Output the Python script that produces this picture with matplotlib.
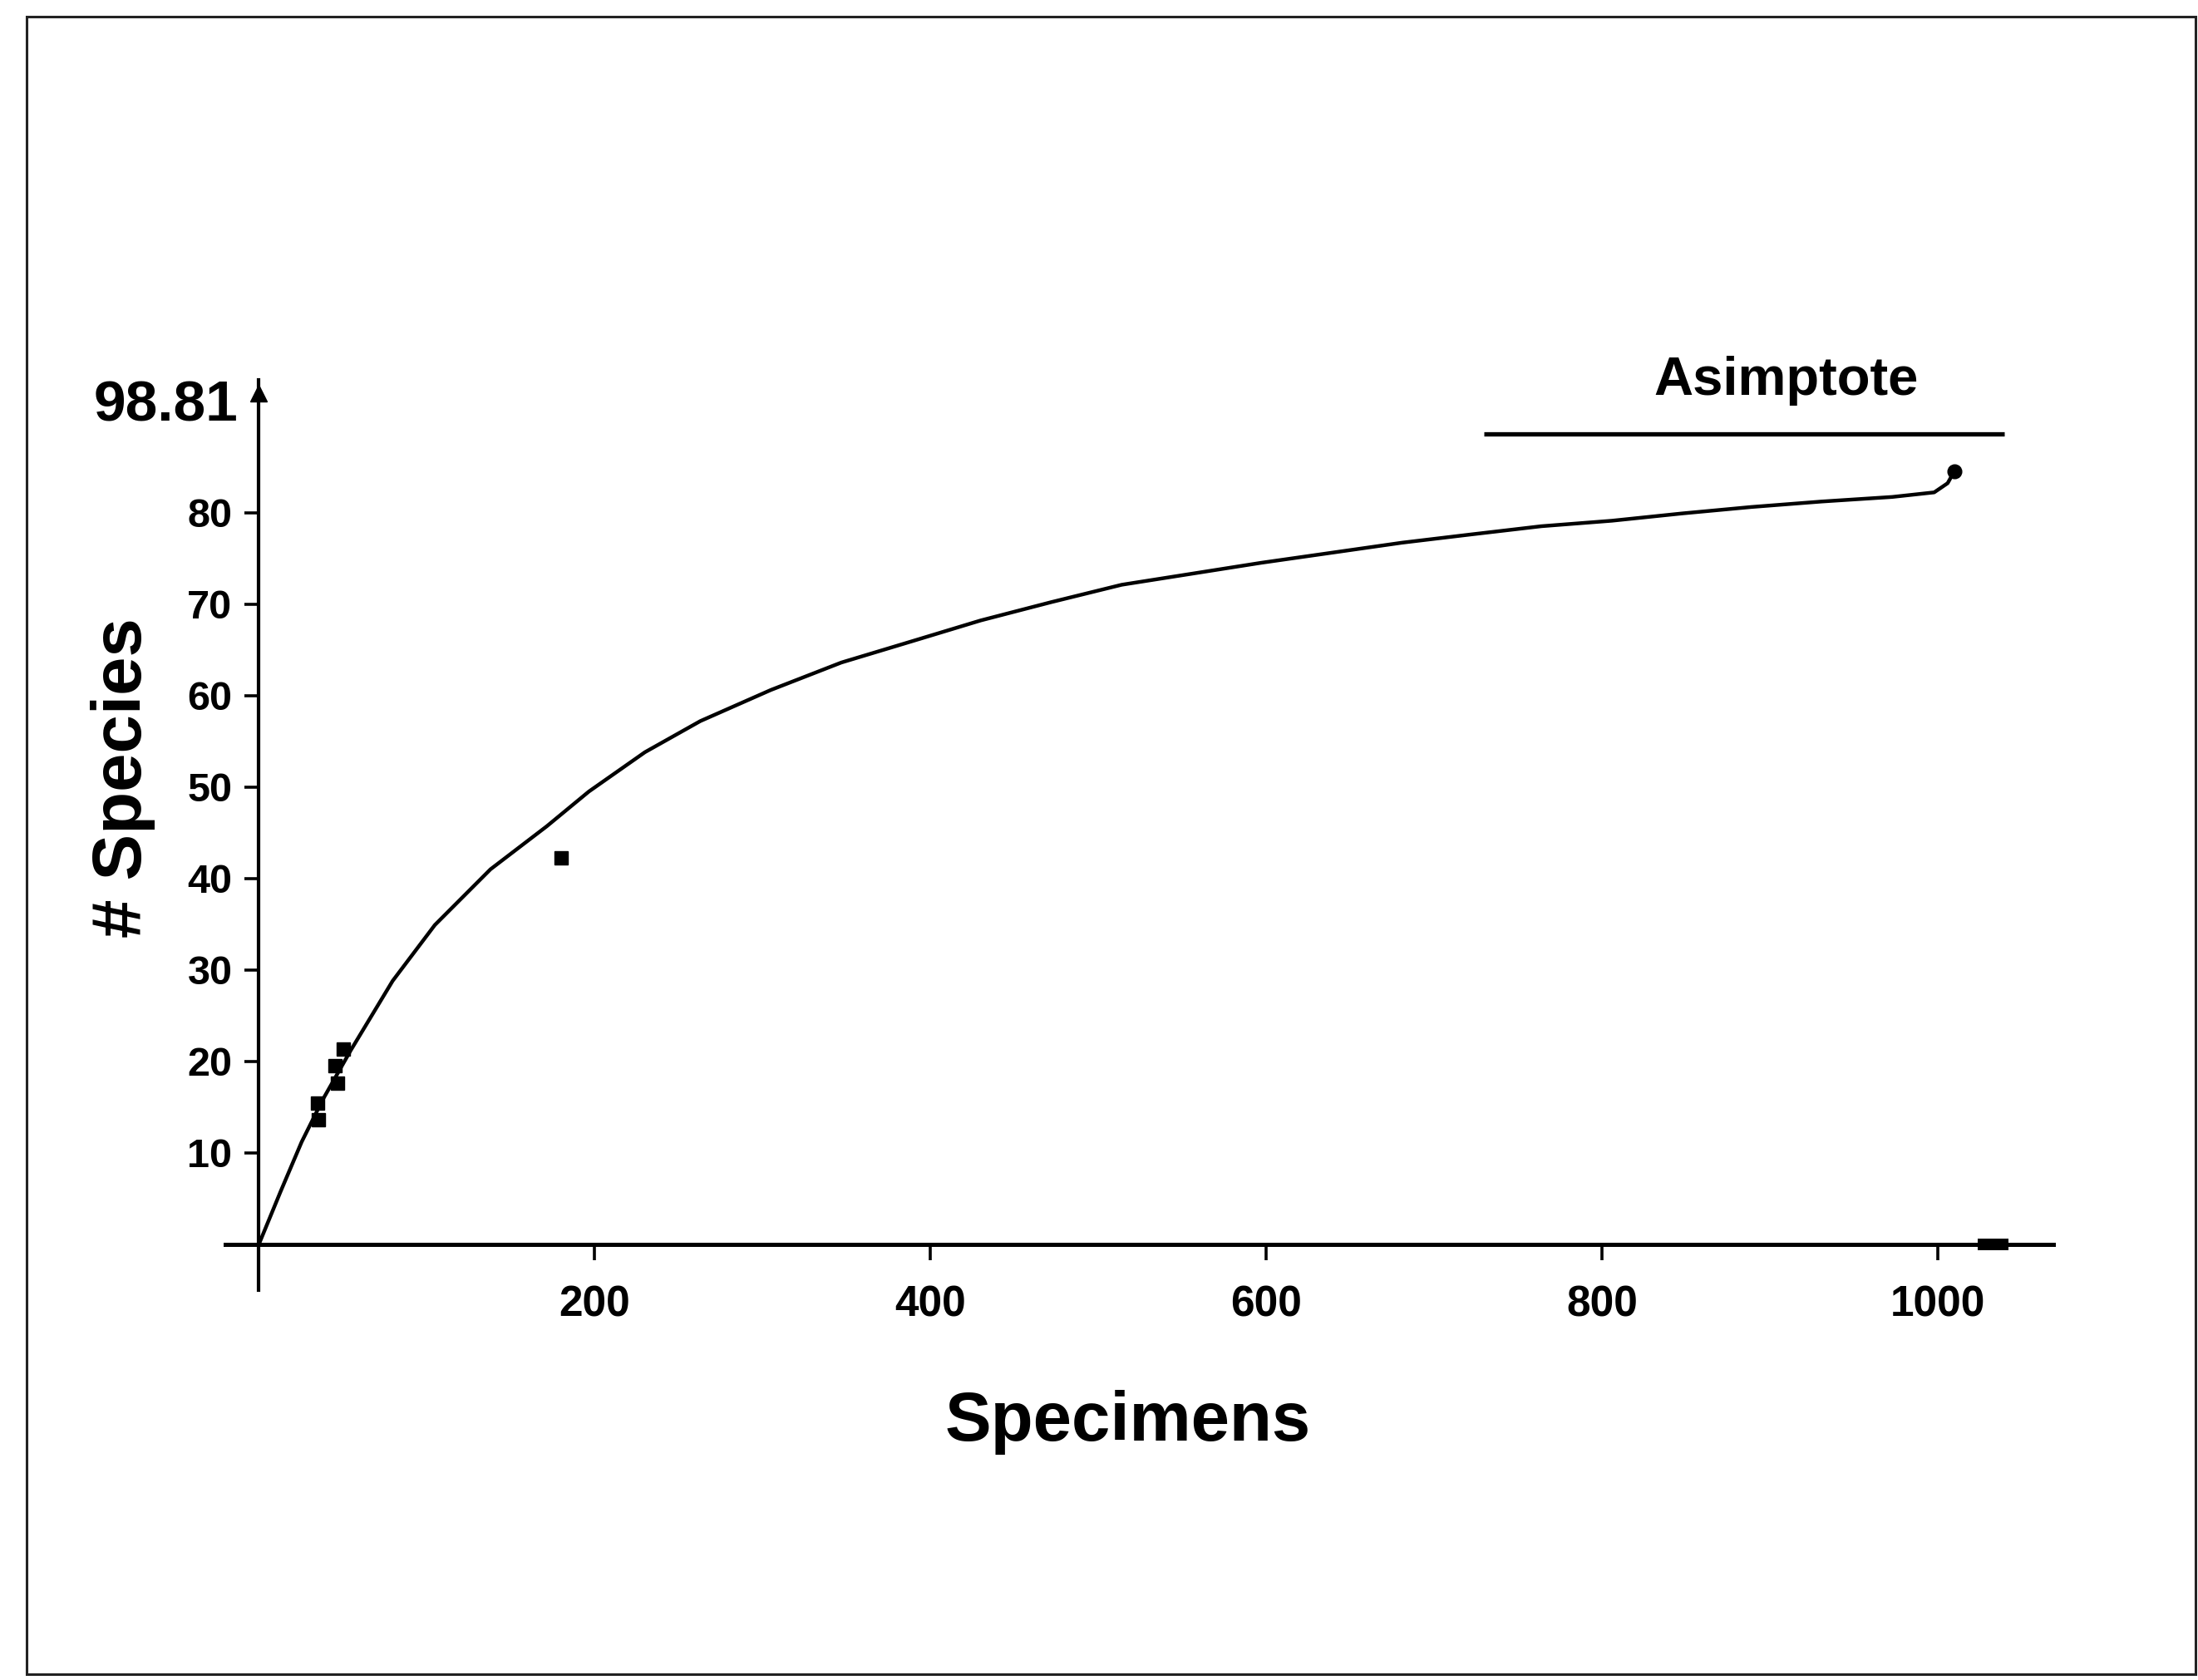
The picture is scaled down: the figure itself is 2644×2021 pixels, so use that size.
import matplotlib
matplotlib.use('Agg')
import matplotlib.pyplot as plt
from matplotlib.patches import Rectangle

# ── data ──
specimens = [0, 13, 25.5, 38, 54.7, 79.7, 104.8, 138, 171.5, 196.6, 230, 263, 305,
             347, 388.6, 430, 472, 514, 555.5, 597, 639, 681, 722, 764, 806, 848,
             889, 931, 973, 998, 1006, 1010]
species = [0, 5.8, 11.2, 15.8, 21.2, 28.8, 34.9, 41.0, 45.7, 49.5, 53.8, 57.2, 60.6,
           63.6, 65.9, 68.2, 70.2, 72.1, 73.3, 74.5, 75.6, 76.7, 77.6, 78.5, 79.1, 79.9,
           80.6, 81.2, 81.7, 82.2, 83.2, 84.5]

# stray marks on the scan
blob_x = [35.6, 35.1, 47, 45.5, 50.5, 180]
blob_y = [13.6, 15.4, 17.6, 19.5, 21.3, 42.2]

asym_x = [730, 1040]
asym_y = [88.6, 88.6]

x_ticks = [200, 400, 600, 800, 1000]
y_ticks = [10, 20, 30, 40, 50, 60, 70, 80]
top_label = '98.81'
top_label_y = 91.6

plt.rcParams['font.family'] = ['Liberation Sans', 'DejaVu Sans']
plt.rcParams['font.weight'] = 'bold'

fig = plt.figure(figsize=(26.44, 20.21), dpi=100)
ax = fig.add_axes([0.1025, 0.2321, 0.8317, 0.5418])

# scan frame
fig.patches.append(Rectangle((0.0121, 0.0035), 0.9868, 0.9866, transform=fig.transFigure,
                             fill=False, edgecolor='#222222', linewidth=2.2))

ax.plot(specimens, species, color='black', linewidth=3.2, solid_joinstyle='round')
ax.plot(blob_x, blob_y, linestyle='none', marker='s', markersize=11, color='black')
ax.plot(specimens[-1], species[-1], marker='o', markersize=12, color='black')
ax.plot(asym_x, asym_y, color='black', linewidth=3.8, solid_capstyle='butt')
ax.plot([1024, 1042], [0, 0], color='black', linewidth=10, solid_capstyle='butt', clip_on=False)

ax.set_xlim(-20, 1069)
ax.set_ylim(-5, 94.5)

for s in ['top', 'right']:
    ax.spines[s].set_visible(False)
ax.spines['left'].set_position(('data', 0))
ax.spines['bottom'].set_position(('data', 0))
ax.spines['left'].set_linewidth(3.0)
ax.spines['bottom'].set_linewidth(3.6)

ax.set_xticks(x_ticks)
ax.set_xticklabels([str(v) for v in x_ticks], fontsize=37, fontweight='bold')
ax.set_yticks(y_ticks)
ax.set_yticklabels([str(v) for v in y_ticks], fontsize=35, fontweight='bold')
ax.tick_params(axis='x', direction='out', length=14, width=2.6, pad=21)
ax.tick_params(axis='y', direction='out', length=12, width=2.6, pad=11)

ax.annotate(top_label, xy=(0, top_label_y), xytext=(-18, 0), textcoords='offset points',
            ha='right', va='center', fontsize=50, fontweight='bold', annotation_clip=False)
ax.plot(0, 93.0, marker='^', markersize=15, color='black', clip_on=False)

ax.text(sum(asym_x) / 2 + 25, 94.4, 'Asimptote', ha='center', va='center',
        fontsize=47, fontweight='bold', clip_on=False)

fig.text(148 / 2644, 1 - 936 / 2021, '# Species', rotation=90, ha='center', va='center',
         fontsize=60, fontweight='bold')
fig.text(1357 / 2644, 1 - 1711 / 2021, 'Specimens', ha='center', va='center',
         fontsize=60, fontweight='bold')

fig.savefig('out.png', dpi=100)
